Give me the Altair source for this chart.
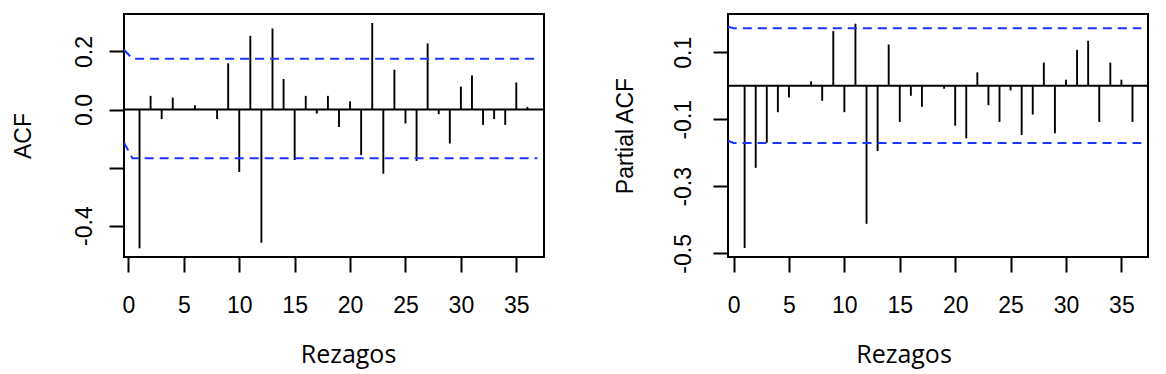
import altair as alt
import pandas as pd

# ---- data ----
lags = list(range(1, 37))
acf_vals = [-0.478, 0.047, -0.033, 0.041, 0.002, 0.015, 0.0, -0.033, 0.159, -0.215,
            0.254, -0.459, 0.279, 0.105, -0.174, 0.047, -0.014, 0.047, -0.060, 0.028,
            -0.157, 0.298, -0.221, 0.137, -0.048, -0.177, 0.228, -0.016, -0.117, 0.079,
            0.117, -0.053, -0.033, -0.053, 0.093, 0.009]
pacf_vals = [-0.484, -0.245, -0.170, -0.079, -0.035, 0.0, 0.013, -0.045, 0.163, -0.079,
             0.185, -0.412, -0.195, 0.123, -0.108, -0.030, -0.063, 0.0, -0.009, -0.119,
             -0.157, 0.040, -0.058, -0.108, -0.014, -0.147, -0.086, 0.069, -0.142, 0.018,
             0.107, 0.134, -0.108, 0.069, 0.018, -0.108]

# confidence-band polylines (blue dashed)
acf_ci_x = [-0.4, 0.36, 36.9]
acf_ci_upper = [0.206, 0.175, 0.175]
acf_ci_lower = [-0.114, -0.168, -0.168]
pacf_ci_x = [-0.5, 0.0, 36.8]
pacf_ci_upper = [0.176, 0.1715, 0.1715]
pacf_ci_lower = [-0.164, -0.171, -0.171]

x_ticks = [0, 5, 10, 15, 20, 25, 30, 35]
acf_y_ticks = [0.2, 0.0, -0.2, -0.4]
pacf_y_ticks = [0.2, 0.1, 0.0, -0.1, -0.2, -0.3, -0.4, -0.5]

BLUE = "#1a35ff"
TICKFONT = "Liberation Sans"


def ci_frame(xs, up, lo):
    rows = []
    for i, x in enumerate(xs):
        rows.append({"x": x, "y": up[i], "s": "upper", "o": i})
        rows.append({"x": x, "y": lo[i], "s": "lower", "o": i})
    return pd.DataFrame(rows)


def panel(vals, ci_df, xdom, ydom, yticks, ylabel_expr, ytitle, ytitle_x,
          ylabel_pad, xtitle_x):
    df = pd.DataFrame({"lag": lags, "v": vals, "z": [0.0] * len(lags)})
    xscale = alt.Scale(domain=xdom, nice=False, zero=False)
    yscale = alt.Scale(domain=ydom, nice=False, zero=False)
    xaxis = alt.Axis(values=x_ticks, tickSize=15, tickWidth=2, tickColor="black",
                     domain=False, grid=False, labelFont=TICKFONT, labelFontSize=23,
                     labelColor="black", labelAngle=0, labelBaseline="alphabetic",
                     labelPadding=40, labelFlush=False, labelOverlap=False,
                     title="Rezagos", titleFont="Open Sans", titleFontSize=25,
                     titleFontWeight="normal", titleColor="black",
                     titleX=xtitle_x, titleY=105.7, titleAlign="center",
                     titleBaseline="alphabetic")
    yaxis = alt.Axis(values=yticks, tickSize=15, tickWidth=2, tickColor="black",
                     domain=False, grid=False, labelFont=TICKFONT, labelFontSize=23,
                     labelColor="black", labelAngle=270, labelAlign="center",
                     labelBaseline="alphabetic", labelPadding=ylabel_pad,
                     labelOverlap=False, labelFlush=False, labelExpr=ylabel_expr,
                     title=ytitle, titleFont=TICKFONT, titleFontSize=23,
                     titleFontWeight="normal", titleColor="black", titleAngle=270,
                     titleX=ytitle_x, titleY=121.5, titleAlign="center",
                     titleBaseline="middle")

    bars = alt.Chart(df).mark_rule(color="black", strokeWidth=1.9).encode(
        x=alt.X("lag:Q", scale=xscale, axis=xaxis),
        y=alt.Y("v:Q", scale=yscale, axis=yaxis),
        y2="z:Q",
    )
    zero = alt.Chart(pd.DataFrame({"z": [0.0]})).mark_rule(
        color="black", strokeWidth=1.9).encode(
        y=alt.Y("z:Q", scale=yscale)
    )
    ci = alt.Chart(ci_df).mark_line(color=BLUE, strokeWidth=2,
                                    strokeDash=[9, 6], clip=True).encode(
        x=alt.X("x:Q", scale=xscale),
        y=alt.Y("y:Q", scale=yscale),
        detail="s:N",
        order="o:Q",
    )
    return alt.layer(bars, zero, ci).properties(width=420, height=243)


neg = "(datum.value < 0 ? '-' : '') + format(abs(datum.value), '.1f')"
acf_expr = "abs(datum.value + 0.2) < 1e-6 ? '' : " + neg
pacf_expr = "abs(round(datum.value * 10)) % 2 == 1 ? " + neg + " : ''"

left = panel(acf_vals, ci_frame(acf_ci_x, acf_ci_upper, acf_ci_lower),
             [-0.4, 37.5], [-0.508, 0.329], acf_y_ticks, acf_expr, "ACF",
             -100.8, 17.5, 224)
right = panel(pacf_vals, ci_frame(pacf_ci_x, pacf_ci_upper, pacf_ci_lower),
              [-0.5, 37.4], [-0.511, 0.214], pacf_y_ticks, pacf_expr, "Partial ACF",
              -102.3, 22.5, 175.5)

chart = alt.hconcat(left, right, spacing=184, bounds="flush").properties(
    padding={"left": 3, "top": 5, "right": 5, "bottom": 5},
    background="white",
).configure_view(stroke="black", strokeWidth=2)

chart.save("out.html", embed_options={"renderer": "svg", "actions": False})
